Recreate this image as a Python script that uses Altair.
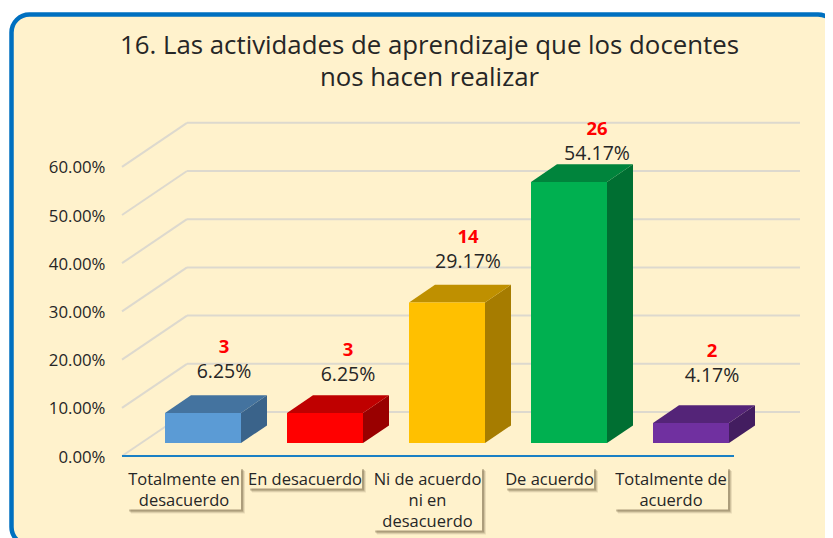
import altair as alt
import pandas as pd

categories = ["Totalmente en desacuerdo", "En desacuerdo", "Ni de acuerdo ni en desacuerdo", "De acuerdo", "Totalmente de acuerdo"]
category_lines = ["Totalmente en\ndesacuerdo", "En desacuerdo", "Ni de acuerdo\nni en\ndesacuerdo", "De acuerdo", "Totalmente de\nacuerdo"]
counts = [3, 3, 14, 26, 2]
shares = [0.0625, 0.0625, 0.2917, 0.5417, 0.0417]
y_ticks = [0, 0.1, 0.2, 0.3, 0.4, 0.5, 0.6]

front_colors = ["#5B9BD5", "#FF0000", "#FFC000", "#00B050", "#7030A0"]
top_colors = ["#44739F", "#BF0000", "#BF9000", "#00843C", "#542478"]
side_colors = ["#3A638A", "#990000", "#A67C00", "#006F32", "#431D60"]

# layout of the pseudo-3D scene, expressed in scale units
PX_X, PX_Y = 122.0, 482.0
def ux(px): return px / PX_X
def uy(px): return px / PX_Y
HALF = ux(38)
BAR_DX, BAR_DY = ux(26), uy(17.6)
BASE = uy(13)
WALL_DX, WALL_DY = ux(65), uy(44)
X_LEFT, X_RIGHT, X_AXIS_END = ux(122 - 203), ux(825 - 203), ux(734 - 203)
label_nudge_x = [21, 23, 21, 28, 21]
label_nudge_y = [41, 38, 40, 28, 47]
box_center_x = [-19, -20, -19.5, -19.5, -20]
box_widths = [114, 114, 109, 89, 114]
box_lines = [2, 1, 3, 1, 2]

FONT = "Open Sans"
INK = "#262626"
PANEL = "#FFF2CC"

rows = []
for i, c in enumerate(categories):
    rows.append({"cat": c, "i": i, "v": shares[i], "n": str(counts[i]), "pct": f"{shares[i]*100:.2f}%",
                 "x0": i - HALF, "x1": i + HALF, "y0": BASE, "yv": BASE + shares[i],
                 "lx": i + ux(label_nudge_x[i]), "ly": BASE + shares[i] + uy(label_nudge_y[i]),
                 "lyn": BASE + shares[i] + uy(label_nudge_y[i] + 25)})
bars = pd.DataFrame(rows)

side_rows, top_rows = [], []
for r in rows:
    side_rows += [{"cat": r["cat"], "x": r["x1"], "y": r["y0"], "y2": r["yv"]},
                  {"cat": r["cat"], "x": r["x1"] + BAR_DX, "y": r["y0"] + BAR_DY, "y2": r["yv"] + BAR_DY}]
    top_rows += [{"cat": r["cat"], "y": r["yv"], "x": r["x0"], "x2": r["x1"]},
                 {"cat": r["cat"], "y": r["yv"] + BAR_DY, "x": r["x0"] + BAR_DX, "x2": r["x1"] + BAR_DX}]
sides = pd.DataFrame(side_rows)
tops = pd.DataFrame(top_rows)

grid = pd.DataFrame([{"t": t, "xa": X_LEFT, "xb": X_LEFT + WALL_DX, "xc": ux(800 - 203),
                      "ya": t, "yb": t + WALL_DY} for t in y_ticks])

def box_table(shift=0.0):
    return pd.DataFrame([{"label": category_lines[i],
                          "cx": i + ux(box_center_x[i]),
                          "bx0": i + ux(box_center_x[i] - box_widths[i] / 2 + shift),
                          "bx1": i + ux(box_center_x[i] + box_widths[i] / 2 + shift),
                          "by0": -uy(11 + shift), "by1": -uy(11 + 21 * box_lines[i] + 0.5 + shift),
                          "cy": -uy(23.5)} for i in range(5)])

xs = alt.Scale(domain=[X_LEFT, X_RIGHT], nice=False, zero=False)
ys = alt.Scale(domain=[0, 0.7], nice=False, zero=False)
y_axis = alt.Axis(values=y_ticks, format=".2%", domain=False, ticks=False, grid=False, zindex=1, title=None,
                  labelFont=FONT, labelFontSize=16.8, labelColor=INK, labelPadding=17, labelBaseline="middle",
                  labelOffset=1)
X = lambda f: alt.X(f"{f}:Q", scale=xs, axis=None)
Y = lambda f: alt.Y(f"{f}:Q", scale=ys, axis=y_axis)
cat_color = lambda cols: alt.Color("cat:N", scale=alt.Scale(domain=categories, range=cols), legend=None)

frame = alt.Chart(pd.DataFrame({"a": [0]})).mark_rect(
    fill=PANEL, stroke="#0070C0", strokeWidth=4.5, cornerRadius=18
).encode(x=alt.value(11.5 - 122), x2=alt.value(836 - 122), y=alt.value(14.5 - 118.6), y2=alt.value(545 - 118.6))

GRID_COL = "#DDD9CE"
wall_h = alt.Chart(grid).mark_rule(color=GRID_COL, strokeWidth=2).encode(x=X("xb"), x2="xc:Q", y=Y("yb"))
wall_d = alt.Chart(grid).mark_rule(color=GRID_COL, strokeWidth=2).encode(x=X("xa"), x2="xb:Q", y=Y("ya"), y2="yb:Q")

baseline = alt.Chart(pd.DataFrame({"a": [X_LEFT], "b": [X_AXIS_END], "y": [0]})).mark_rule(
    color="#1A80C4", strokeWidth=2).encode(x=X("a"), x2="b:Q", y=Y("y"))

front = alt.Chart(bars).mark_rect().encode(x=X("x0"), x2="x1:Q", y=Y("y0"), y2="yv:Q", color=cat_color(front_colors))
side = alt.Chart(sides).mark_area(orient="vertical").encode(
    x=X("x"), y=Y("y"), y2="y2:Q", color=cat_color(side_colors), detail="cat:N")
top = alt.Chart(tops).mark_area(orient="horizontal").encode(
    y=Y("y"), x=X("x"), x2="x2:Q", color=cat_color(top_colors), detail="cat:N")

pct = alt.Chart(bars).mark_text(font=FONT, fontSize=19.5, color=INK).encode(x=X("lx"), y=Y("ly"), text="pct:N")
cnt = alt.Chart(bars).mark_text(font=FONT, fontSize=18.5, fontWeight="bold", color="#FF0000").encode(
    x=X("lx"), y=Y("lyn"), text="n:N")

def shadow(px, op):
    return alt.Chart(box_table(px)).mark_rect(color="#5A4A2A", opacity=op).encode(
        x=X("bx0"), x2="bx1:Q", y=Y("by0"), y2="by1:Q")

boxes = box_table()
box = alt.Chart(boxes).mark_rect(fill=PANEL).encode(x=X("bx0"), x2="bx1:Q", y=Y("by0"), y2="by1:Q")
box_text = alt.Chart(boxes).mark_text(font=FONT, fontSize=16.5, color=INK, lineBreak="\n", lineHeight=21).encode(
    x=X("cx"), y=Y("cy"), text="label:N")

scene = alt.layer(
    wall_h, wall_d, baseline, side, top, front, pct, cnt,
    shadow(4, 0.12), shadow(3, 0.18), shadow(2, 0.3), box, box_text
).resolve_scale(color="independent")

chart = alt.layer(frame, scene).properties(
    width=703, height=337.4,
    autosize=alt.AutoSizeParams(type="none"),
    padding={"left": 114, "top": 110.6, "right": 0, "bottom": 82},
    background="white",
    title=alt.TitleParams(
        text=["16. Las actividades de aprendizaje que los docentes", "nos hacen realizar"],
        font=FONT, fontSize=25.8, fontWeight="normal", color=INK, anchor="middle", frame="group",
        dx=-44, offset=-80, lineHeight=32),
).configure_view(stroke=None)

chart.save("out.html", embed_options={"renderer": "svg", "actions": False})
